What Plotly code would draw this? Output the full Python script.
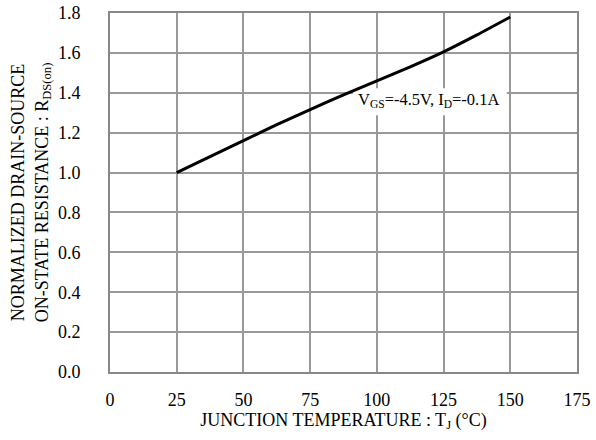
import plotly.graph_objects as go

temp_c = [25, 37.5, 50, 62.5, 75, 87.5, 100, 112.5, 125, 137.5, 150]
rds_norm = [1.00, 1.08, 1.16, 1.24, 1.315, 1.39, 1.46, 1.53, 1.605, 1.69, 1.78]
x_ticks = [0, 25, 50, 75, 100, 125, 150, 175]
y_ticks = [0.0, 0.2, 0.4, 0.6, 0.8, 1.0, 1.2, 1.4, 1.6, 1.8]
y_tick_text = [f"{v:.1f}" for v in y_ticks]

font = "Liberation Serif, Times New Roman, serif"

fig = go.Figure()
fig.add_trace(go.Scatter(x=temp_c, y=rds_norm, mode="lines",
                         line=dict(color="black", width=3, shape="spline", smoothing=0.6),
                         showlegend=False, hoverinfo="skip"))

# white label background: above gridlines, below the curve
fig.add_shape(type="rect", xref="x", yref="y", x0=91, x1=148.7, y0=1.287, y1=1.423,
              fillcolor="white", line=dict(width=0), layer="between")
fig.add_annotation(x=119.2, y=1.362, xref="x", yref="y",
                   text="V<sub>GS</sub>=-4.5V, I<sub>D</sub>=-0.1A",
                   showarrow=False,
                   font=dict(family=font, size=16.5, color="black"))

fig.update_layout(
    width=596, height=440,
    margin=dict(l=110, r=19, t=13, b=68),
    paper_bgcolor="white", plot_bgcolor="white",
    font=dict(family=font, color="black"),
)
fig.update_xaxes(range=[0, 175], tickvals=x_ticks, showgrid=True,
                 gridcolor="#999999", gridwidth=1.5,
                 showline=True, linecolor="#888888", linewidth=2, mirror=True,
                 ticks="", ticklabelstandoff=10, automargin=False,
                 tickfont=dict(family=font, size=18),
                 zeroline=False,
                 title=dict(text="JUNCTION TEMPERATURE : T<sub>J</sub> (°C)",
                            font=dict(family=font, size=18), standoff=2))
fig.update_yaxes(range=[0, 1.8], tickvals=y_ticks, ticktext=y_tick_text,
                 showgrid=True, gridcolor="#999999", gridwidth=1.5,
                 showline=True, linecolor="#888888", linewidth=2, mirror=True,
                 ticks="", ticklabelstandoff=24, automargin=False,
                 tickfont=dict(family=font, size=18),
                 zeroline=False,
                 title=dict(text="NORMALIZED DRAIN-SOURCE<br>ON-STATE RESISTANCE : R<sub>DS(on)</sub>",
                            font=dict(family=font, size=18), standoff=5))

fig.write_html("out.html")
